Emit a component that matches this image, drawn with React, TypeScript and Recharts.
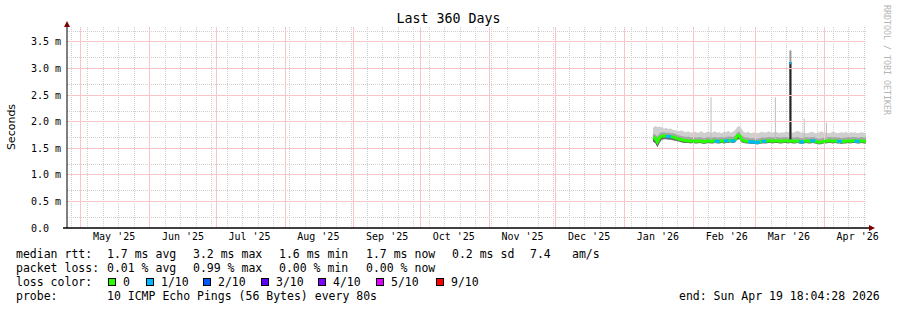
import {
  Area,
  Bar,
  CartesianGrid,
  ComposedChart,
  Line,
  ReferenceLine,
  XAxis,
  YAxis,
} from "recharts";

// x = days since graph start (Thu Apr 24 2025 18:04), graph spans 360 days
const FIRST_DAY = 264; // first daily sample (mid Jan 2026)

// median rtt in ms, one value per day
const median = [
  1.7, 1.69, 1.62, 1.7, 1.73, 1.73, 1.73, 1.72, 1.72, 1.71,
  1.7, 1.68, 1.67, 1.66, 1.65, 1.64, 1.64, 1.63, 1.64, 1.63,
  1.63, 1.64, 1.63, 1.62, 1.63, 1.64, 1.63, 1.63, 1.64, 1.63,
  1.63, 1.64, 1.63, 1.64, 1.64, 1.65, 1.64, 1.66, 1.74, 1.74,
  1.66, 1.64, 1.63, 1.63, 1.62, 1.62, 1.62, 1.61, 1.62, 1.63,
  1.63, 1.63, 1.64, 1.64, 1.63, 1.64, 1.64, 1.63, 1.63, 1.64,
  1.64, 1.63, 1.64, 1.63, 1.63, 1.64, 1.63, 1.62, 1.63, 1.64,
  1.63, 1.63, 1.64, 1.63, 1.62, 1.61, 1.62, 1.63, 1.63, 1.64,
  1.64, 1.63, 1.64, 1.63, 1.63, 1.62, 1.63, 1.63, 1.64, 1.63,
  1.64, 1.64, 1.63, 1.63, 1.64, 1.63, 1.63,
];

// smoke: highest ping of the day (light grey)
const smokeTop = [
  1.88, 1.92, 1.9, 1.91, 1.89, 1.87, 1.88, 1.86, 1.87, 1.85,
  1.84, 1.83, 1.82, 1.84, 1.81, 1.8, 1.82, 1.79, 1.8, 1.81,
  1.79, 1.8, 1.82, 1.78, 1.8, 1.81, 1.79, 1.8, 1.82, 1.79,
  1.8, 1.78, 1.81, 1.8, 1.83, 1.79, 1.81, 1.84, 1.9, 1.92,
  1.86, 1.8, 1.79, 1.81, 1.78, 1.79, 1.8, 1.78, 1.79, 1.81,
  1.8, 1.79, 1.82, 1.8, 1.79, 1.81, 1.8, 1.78, 1.8, 1.79,
  1.81, 1.8, 1.82, 1.79, 1.8, 1.83, 1.81, 1.79, 1.8, 1.78,
  1.79, 1.8, 1.81, 1.78, 1.79, 1.8, 1.82, 1.79, 1.8, 1.78,
  1.79, 1.81, 1.8, 1.78, 1.79, 1.8, 1.79, 1.81, 1.78, 1.8,
  1.79, 1.8, 1.78, 1.79, 1.8, 1.79, 1.78,
];

// smoke: upper dense part (mid grey)
const smokeMid = [
  1.77, 1.76, 1.72, 1.78, 1.8, 1.8, 1.79, 1.79, 1.78, 1.78,
  1.77, 1.75, 1.74, 1.73, 1.72, 1.71, 1.72, 1.7, 1.71, 1.7,
  1.7, 1.71, 1.7, 1.69, 1.7, 1.71, 1.7, 1.7, 1.71, 1.7,
  1.7, 1.71, 1.7, 1.71, 1.72, 1.72, 1.71, 1.73, 1.8, 1.81,
  1.74, 1.71, 1.7, 1.7, 1.69, 1.69, 1.69, 1.68, 1.69, 1.7,
  1.7, 1.7, 1.71, 1.71, 1.7, 1.71, 1.71, 1.7, 1.7, 1.71,
  1.71, 1.7, 1.71, 1.7, 1.7, 1.71, 1.7, 1.69, 1.7, 1.71,
  1.7, 1.7, 1.71, 1.7, 1.69, 1.68, 1.69, 1.7, 1.7, 1.71,
  1.71, 1.7, 1.71, 1.7, 1.7, 1.69, 1.7, 1.7, 1.71, 1.7,
  1.71, 1.71, 1.7, 1.7, 1.71, 1.7, 1.7,
];

// smoke: lowest ping of the day (dark grey under the median)
const smokeLow = [
  1.62, 1.6, 1.52, 1.6, 1.66, 1.67, 1.67, 1.66, 1.66, 1.65,
  1.64, 1.63, 1.62, 1.61, 1.6, 1.6, 1.6, 1.59, 1.6, 1.59,
  1.59, 1.6, 1.59, 1.58, 1.59, 1.6, 1.59, 1.59, 1.6, 1.59,
  1.59, 1.6, 1.59, 1.6, 1.6, 1.61, 1.6, 1.61, 1.66, 1.67,
  1.61, 1.6, 1.59, 1.59, 1.58, 1.58, 1.58, 1.57, 1.58, 1.59,
  1.59, 1.59, 1.6, 1.6, 1.59, 1.6, 1.6, 1.59, 1.59, 1.6,
  1.6, 1.59, 1.6, 1.59, 1.59, 1.6, 1.59, 1.58, 1.59, 1.6,
  1.59, 1.59, 1.6, 1.59, 1.58, 1.57, 1.58, 1.59, 1.59, 1.6,
  1.6, 1.59, 1.6, 1.59, 1.59, 1.58, 1.59, 1.59, 1.6, 1.59,
  1.6, 1.6, 1.59, 1.59, 1.6, 1.59, 1.59,
];

// samples (index) with 1/10 packet loss
const lossDays = [7, 29, 33, 36, 44, 45, 47, 50, 67, 72, 84, 92];

// single outlier pings
const spikeDays = [26, 55, 68, 78];
const spikeTops = [2.46, 2.46, 2.06, 1.98];

// the big outlier in March
const bigSpikeDay = 62;
const bigSpikeTop = 3.12;
const bigSpikeMax = 3.34;

const monthStarts = [
  6.25, 37.25, 67.25, 98.25, 129.25, 159.25, 190.25, 220.25, 251.25, 282.25,
  310.25, 341.25,
];
const monthLabelDays = [
  21.25, 52.25, 82.25, 113.25, 144.25, 174.25, 205.25, 235.25, 266.25,
  297.25, 325.25, 356.25,
];
const monthLabels = [
  "May '25", "Jun '25", "Jul '25", "Aug '25", "Sep '25", "Oct '25",
  "Nov '25", "Dec '25", "Jan '26", "Feb '26", "Mar '26", "Apr '26",
];
const yTicks = [0, 0.5, 1, 1.5, 2, 2.5, 3, 3.5];
const sundays = Array.from({ length: 52 }, (_, k) => 2.25 + 7 * k);
const yMinor = Array.from({ length: 38 }, (_, k) => k / 10).filter(
  (_, k) => k % 5 !== 0
);

const lossColors = [
  { label: "0", color: "#26ff00", x: 108 },
  { label: "1/10", color: "#00b8ff", x: 146 },
  { label: "2/10", color: "#0059ff", x: 203 },
  { label: "3/10", color: "#5e00ff", x: 261 },
  { label: "4/10", color: "#7e00ff", x: 318 },
  { label: "5/10", color: "#dd00ff", x: 376 },
  { label: "9/10", color: "#ff0000", x: 436 },
];

const rttStats = ["1.7 ms avg", "3.2 ms max", "1.6 ms min", "1.7 ms now", "0.2 ms sd"];
const lossStats = ["0.01 % avg", "0.99 % max", "0.00 % min", "0.00 % now"];
const statCols = [107, 193, 279, 366, 452];

const rows = median.map((m, i) => {
  const s = spikeDays.indexOf(i);
  const big = i === bigSpikeDay;
  return {
    day: FIRST_DAY + i,
    median: m,
    loss: lossDays.includes(i) ? 1 : 0,
    light: [m, smokeTop[i]],
    mid: [m - 0.01, smokeMid[i]],
    dark: [smokeLow[i], m],
    spike: s >= 0 ? [m, spikeTops[s]] : null,
    bigGrey: big ? [m, bigSpikeMax] : null,
    bigDark: big ? [m, bigSpikeTop] : null,
    bigCap: big ? [bigSpikeTop - 0.04, bigSpikeTop] : null,
  };
});

const MONO = "'DejaVu Sans Mono', monospace";
const MGRID = "#f8c6c6"; // dotted red of rrdtool, blended

function Txt({ x, y, children, size = 11.5 }: any) {
  return (
    <div
      style={{
        position: "absolute",
        left: x,
        top: y - 7,
        lineHeight: "14px",
        fontSize: size,
        fontFamily: MONO,
        whiteSpace: "pre",
        color: "#000",
      }}
    >
      {children}
    </div>
  );
}

const hiddenAxis = (id: string) => (
  <XAxis
    xAxisId={id}
    type="number"
    dataKey="day"
    domain={[0, 360]}
    allowDataOverflow
    hide
  />
);

export default function App() {
  return (
    <div
      style={{
        position: "relative",
        width: 897,
        height: 310,
        background: "#fff",
        overflow: "hidden",
      }}
    >
      <style>{`body{margin:0} .recharts-cartesian-grid line, .recharts-reference-line line{shape-rendering:crispEdges}`}</style>
      <ComposedChart
        width={897}
        height={310}
        data={rows}
        margin={{ top: 27, right: 31, bottom: 62, left: 0 }}
      >
        <CartesianGrid
          stroke="#cfcfcf"
          strokeDasharray="1 1"
          horizontalValues={yMinor}
          verticalValues={sundays}
        />
        {yTicks.slice(1).map((v) => (
          <ReferenceLine
            key={`h${v}`}
            xAxisId={0}
            yAxisId={0}
            y={v}
            stroke={MGRID}
            strokeWidth={1}
          />
        ))}
        {monthStarts.map((d) => (
          <ReferenceLine
            key={`v${d}`}
            xAxisId={0}
            yAxisId={0}
            x={d}
            stroke={MGRID}
            strokeWidth={1}
          />
        ))}
        <XAxis
          type="number"
          dataKey="day"
          domain={[0, 360]}
          ticks={monthLabelDays}
          tickFormatter={(v: number) => monthLabels[monthLabelDays.indexOf(v)]}
          height={20}
          tickLine={false}
          tickSize={0}
          tickMargin={5}
          axisLine={{ stroke: "#000", strokeWidth: 1.5 }}
          tick={{ fontSize: 10, fill: "#000", fontFamily: MONO }}
          allowDataOverflow
        />
        {hiddenAxis("spk")}
        {hiddenAxis("bg")}
        {hiddenAxis("bd")}
        {hiddenAxis("bc")}
        <YAxis
          width={67}
          domain={[0, 3.78]}
          ticks={yTicks}
          tickFormatter={(v: number) =>
            v === 0 ? "0.0\u00a0\u00a0" : `${v.toFixed(1)} m`
          }
          tickLine={false}
          tickSize={0}
          tickMargin={6}
          axisLine={{ stroke: "#000" }}
          tick={{ fontSize: 10, fill: "#000", fontFamily: MONO }}
          allowDataOverflow
        />
        <Bar
          xAxisId="spk"
          dataKey="spike"
          barSize={1}
          fill="#bdbdbd"
          isAnimationActive={false}
        />
        <Area
          dataKey="light"
          type="linear"
          stroke="none"
          fill="#cfcfcf"
          fillOpacity={1}
          isAnimationActive={false}
        />
        <Area
          dataKey="mid"
          type="linear"
          stroke="none"
          fill="#a6a6a6"
          fillOpacity={1}
          isAnimationActive={false}
        />
        <Area
          dataKey="dark"
          type="linear"
          stroke="none"
          fill="#6a6a6a"
          fillOpacity={1}
          isAnimationActive={false}
        />
        <Bar
          xAxisId="bg"
          dataKey="bigGrey"
          barSize={3}
          fill="#9a9a9a"
          isAnimationActive={false}
        />
        <Bar
          xAxisId="bd"
          dataKey="bigDark"
          barSize={3}
          fill="#262626"
          isAnimationActive={false}
        />
        <Bar
          xAxisId="bc"
          dataKey="bigCap"
          barSize={3}
          fill="#00b8ff"
          isAnimationActive={false}
        />
        <Line
          dataKey="median"
          type="linear"
          stroke="#26ff00"
          strokeWidth={3}
          isAnimationActive={false}
          dot={(p: any) =>
            p.payload.loss ? (
              <rect
                key={`l${p.index}`}
                x={p.cx - 2.5}
                y={p.cy - 1.5}
                width={5}
                height={3}
                fill="#00b8ff"
              />
            ) : (
              <g key={`l${p.index}`} />
            )
          }
          activeDot={false}
        />
      </ComposedChart>

      {/* axis arrows */}
      <svg
        width={897}
        height={310}
        style={{ position: "absolute", left: 0, top: 0, pointerEvents: "none" }}
      >
        <line x1={67} y1={27} x2={67} y2={24} stroke="#000" />
        <polygon points="64,27 70,27 67,21" fill="#7f0000" />
        <line x1={63} y1={228} x2={67} y2={228} stroke="#000" strokeWidth={1.5} />
        <line x1={866} y1={228} x2={869} y2={228} stroke="#000" strokeWidth={1.5} />
        <polygon points="869,225 869,231 875,228" fill="#7f0000" />
      </svg>

      <div
        style={{
          position: "absolute",
          left: 0,
          width: 897,
          top: 11,
          textAlign: "center",
          fontFamily: MONO,
          fontSize: 13.3,
          lineHeight: "16px",
          color: "#000",
        }}
      >
        Last 360 Days
      </div>
      <div
        style={{
          position: "absolute",
          left: 11,
          top: 127,
          transform: "translate(-50%, -50%) rotate(-90deg)",
          fontFamily: "'DejaVu Sans', sans-serif",
          fontSize: 11,
          color: "#000",
          whiteSpace: "nowrap",
        }}
      >
        Seconds
      </div>
      <div
        style={{
          position: "absolute",
          left: 887,
          top: 60,
          transform: "translate(-50%, -50%) rotate(90deg)",
          fontFamily: MONO,
          fontSize: 8.3,
          color: "#b4b4b4",
          whiteSpace: "pre",
        }}
      >
        RRDTOOL / TOBI OETIKER
      </div>

      <Txt x={16} y={254}>median rtt:</Txt>
      {rttStats.map((t, i) => (
        <Txt key={t} x={statCols[i]} y={254}>
          {t}
        </Txt>
      ))}
      <Txt x={530} y={254}>7.4</Txt>
      <Txt x={572} y={254}>am/s</Txt>

      <Txt x={16} y={268}>packet loss:</Txt>
      {lossStats.map((t, i) => (
        <Txt key={t} x={statCols[i]} y={268}>
          {t}
        </Txt>
      ))}

      <Txt x={16} y={282}>loss color:</Txt>
      {lossColors.map((c) => (
        <div key={c.label}>
          <div
            style={{
              position: "absolute",
              left: c.x,
              top: 278,
              width: 8,
              height: 8,
              boxSizing: "border-box",
              border: "1px solid #000",
              background: c.color,
            }}
          />
          <Txt x={c.x + 15} y={282}>
            {c.label}
          </Txt>
        </div>
      ))}

      <Txt x={16} y={296}>probe:</Txt>
      <Txt x={107} y={296}>10 ICMP Echo Pings (56 Bytes) every 80s</Txt>
      <Txt x={679} y={296}>end: Sun Apr 19 18:04:28 2026</Txt>
    </div>
  );
}
